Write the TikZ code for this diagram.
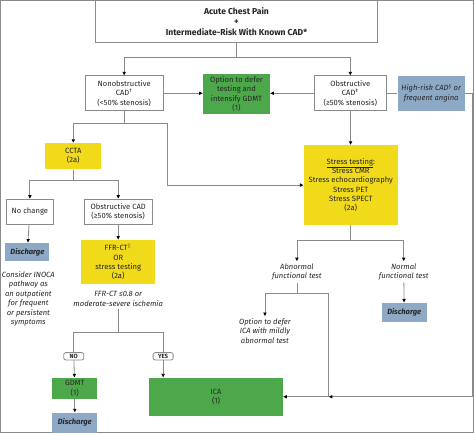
\documentclass[tikz,border=0pt]{standalone}
\usepackage{fontspec}
\setmainfont{Fira Sans}
\usetikzlibrary{arrows.meta}
\definecolor{linegray}{HTML}{8A8A8A}
\definecolor{cgreen}{HTML}{4CA84A}
\definecolor{cyellow}{HTML}{F0DA1A}
\definecolor{cblue}{HTML}{8DA9C6}
\newcommand{\fs}{\fontsize{7.6}{9.4}\selectfont}

\begin{document}
\begin{tikzpicture}[x=1pt,y=-1pt,
    every node/.style={align=center,inner sep=1pt,font=\fs,text=black!85},
    box/.style={draw=linegray,line width=0.8pt,fill=white},
    gbox/.style={fill=cgreen},
    ybox/.style={fill=cyellow},
    bbox/.style={fill=cblue,font=\fs\itshape},
    note/.style={font=\fs\itshape,inner sep=2pt},
    tag/.style={draw=linegray,line width=0.8pt,fill=white,rounded corners=2pt,
      font=\fontsize{6}{6}\selectfont\bfseries,inner sep=1.5pt,minimum width=20pt},
    arr/.style={-{Triangle[length=3.5pt,width=3.2pt,color=black]}},
    every path/.style={draw=linegray,line width=0.8pt}]
  \useasboundingbox (0,0) rectangle (474,433);

  % top row
  \node[box,minimum width=283pt,minimum height=42pt,font=\fontsize{8.6}{10.6}\selectfont\bfseries]
    (top) at (236.5,21) {Acute Chest Pain\\+\\Intermediate-Risk With Known CAD*};
  \node[box,minimum width=78pt,minimum height=35pt] (nonob) at (124,93)
    {Nonobstructive\\CAD\textsuperscript{†}\\(<50\% stenosis)};
  \node[gbox,minimum width=67pt,minimum height=40pt] (defer) at (236.5,94)
    {Option to defer\\testing and\\intensify GDMT\\(1)};
  \node[box,minimum width=72pt,minimum height=35pt] (obs) at (350.5,93)
    {Obstructive\\CAD\textsuperscript{‡}\\(≥50\% stenosis)};
  \node[bbox,minimum width=67pt,minimum height=35pt] (hrisk) at (431.5,93)
    {High-risk CAD\textsuperscript{§} or\\frequent angina};

  % left branch
  \node[ybox,minimum width=56pt,minimum height=26pt] (ccta) at (73,156) {CCTA\\(2a)};
  \node[box,minimum width=47pt,minimum height=25pt] (nochange) at (29.5,211.5) {No change};
  \node[box,minimum width=68pt,minimum height=25pt] (obs2) at (118,211.5)
    {Obstructive CAD\\(≥50\% stenosis)};
  \node[bbox,minimum width=44pt,minimum height=18pt,font=\fs\itshape\bfseries] (dis1) at (27,252) {Discharge};
  \node[note] (inoca) at (28,299)
    {Consider INOCA\\pathway as\\an outpatient\\for frequent\\or persistent\\symptoms};
  \node[ybox,minimum width=74pt,minimum height=44pt] (ffr) at (118,262)
    {FFR-CT$^{\|}$\\OR\\stress testing\\(2a)};
  \node[note] (ffrtxt) at (118,299) {FFR-CT ≤0.8 or\\moderate-severe ischemia};
  \node[tag] (nolbl) at (73.5,356.5) {NO};
  \node[tag] (yeslbl) at (163,356.5) {YES};
  \node[gbox,minimum width=45pt,minimum height=21pt] (gdmt) at (74.5,388.5) {GDMT\\(1)};
  \node[bbox,minimum width=45pt,minimum height=20pt,font=\fs\itshape\bfseries] (dis2) at (74.5,423) {Discharge};
  \node[gbox,minimum width=134pt,minimum height=38pt] (ica) at (216,397) {ICA\\(1)};

  % right branch
  \node[ybox,minimum width=94pt,minimum height=80pt] (stress) at (351,185)
    {\underline{Stress testing}:\\Stress CMR\\Stress echocardiography\\Stress PET\\Stress SPECT\\(2a)};
  \node[note] (abn) at (297,272) {Abnormal\\functional test};
  \node[note] (norm) at (404,272) {Normal\\functional test};
  \node[bbox,minimum width=45pt,minimum height=19pt,font=\fs\itshape\bfseries] (dis3) at (404.5,312.5) {Discharge};
  \node[note] (optica) at (265,331) {Option to defer\\ICA with mildly\\abnormal test};

  % split points
  \coordinate (s1) at (236.5,57);
  \coordinate (s2) at (124,123);
  \coordinate (bend) at (167,185);
  \coordinate (s3) at (73,180);
  \coordinate (s4) at (118,333);
  \coordinate (s5) at (351,240);
  \coordinate (s6) at (297,293);
  \coordinate (join) at (329,397);
  \coordinate (edge) at (472.5,397);

  % connectors
  \draw (top) -- (s1);
  \draw[arr] (s1) -| (nonob);
  \draw[arr] (s1) -| (obs);
  \draw[arr] (nonob.east) -- (nonob.east -| defer.west);
  \draw[arr] (obs.west) -- (obs.west -| defer.east);
  \draw (obs) -- (hrisk);
  \draw[arr] (hrisk.east) -| (edge) -- (join);
  \draw[arr] (join) -- (ica);
  \draw (nonob) -- (s2);
  \draw[arr] (s2) -| (ccta);
  \draw[arr] (s2) -| (bend) -- (stress);
  \draw (ccta) -- (s3);
  \draw[arr] (s3) -| (nochange);
  \draw[arr] (s3) -| (obs2);
  \draw[arr] (nochange) -- (dis1);
  \draw[arr] (obs2) -- (ffr);
  \draw (ffrtxt) -- (s4);
  \draw (s4) -| (nolbl);
  \draw (s4) -| (yeslbl);
  \draw[arr] (nolbl) -- (gdmt);
  \draw[arr] (yeslbl) -- (yeslbl |- ica.north);
  \draw[arr] (gdmt) -- (dis2);
  \draw[arr] (obs) -- (stress);
  \draw (stress) -- (s5);
  \draw[arr] (s5) -| (abn);
  \draw[arr] (s5) -| (norm);
  \draw (abn) -- (s6);
  \draw[arr] (s6) -| (optica);
  \draw (s6) -| (join);
  \draw[arr] (norm) -- (dis3);
\end{tikzpicture}
\end{document}
